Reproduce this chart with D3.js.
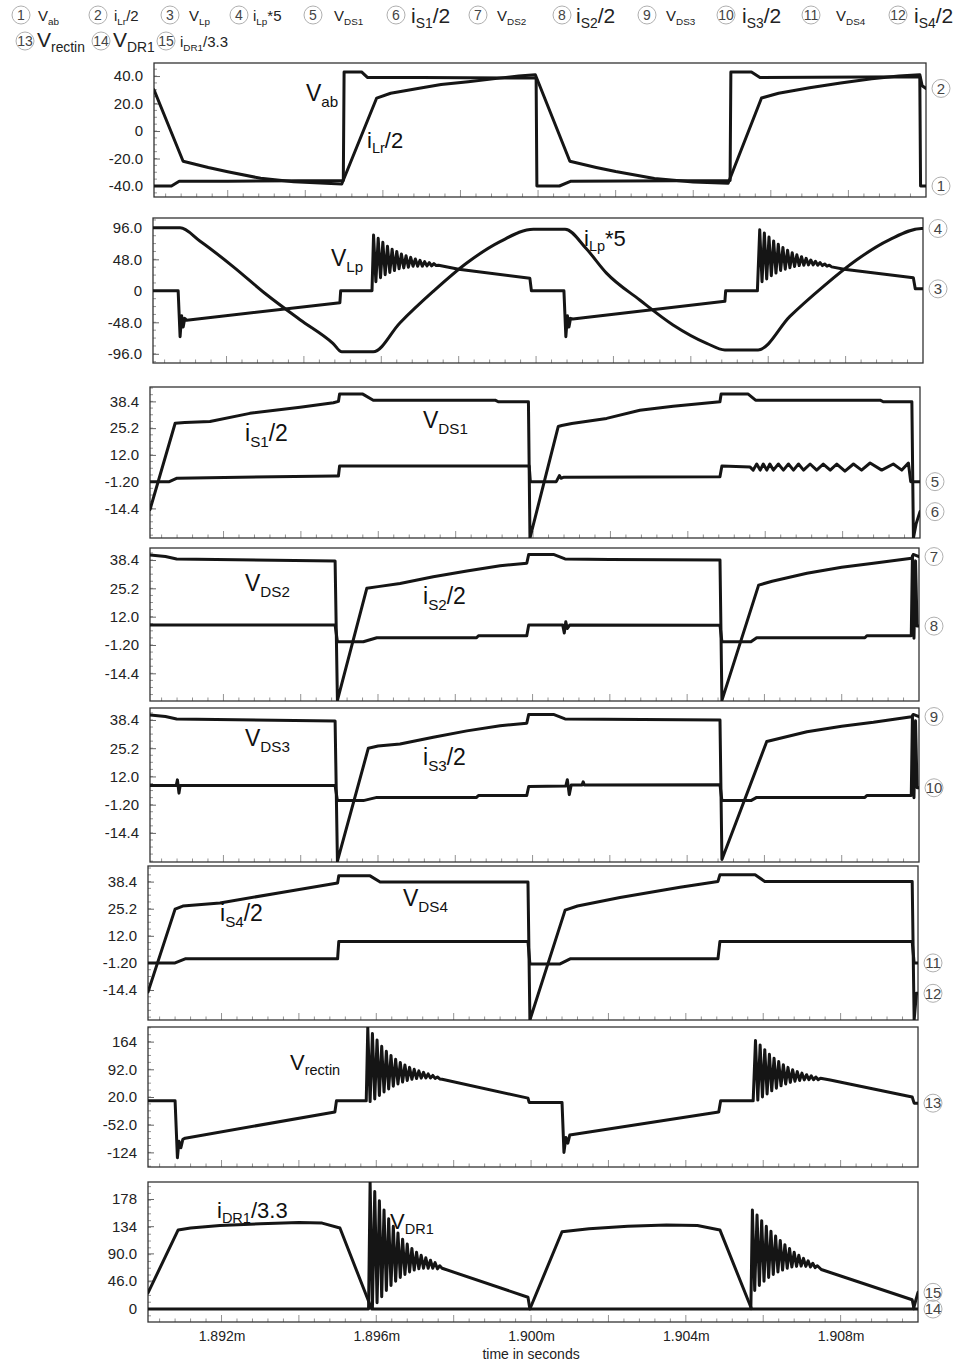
<!DOCTYPE html>
<html><head><meta charset="utf-8">
<script src="https://cdn.jsdelivr.net/npm/d3@7"></script>
<style>body{margin:0;background:#fff}svg{display:block}</style>
</head><body><svg id="c" width="962" height="1364"></svg>
<script>
// ---------------- DATA (time in microseconds, value) ----------------
const X_DOMAIN = [1890.1, 1910.0];
const xTickValues = [1892, 1896, 1900, 1904, 1908];
const xTickLabels = ["1.892m", "1.896m", "1.900m", "1.904m", "1.908m"];
const xTitle = "time in seconds";

const yTicks1 = [40, 20, 0, -20, -40];       const yLabels1 = ["40.0", "20.0", "0", "-20.0", "-40.0"];
const yTicks2 = [96, 48, 0, -48, -96];       const yLabels2 = ["96.0", "48.0", "0", "-48.0", "-96.0"];
const yTicksS = [38.4, 25.2, 12, -1.2, -14.4]; const yLabelsS = ["38.4", "25.2", "12.0", "-1.20", "-14.4"];
const yTicks7 = [164, 92, 20, -52, -124];    const yLabels7 = ["164", "92.0", "20.0", "-52.0", "-124"];
const yTicks8 = [178, 134, 90, 46, 0];       const yLabels8 = ["178", "134", "90.0", "46.0", "0"];

// 1 Vab
const vab = [[1890.1,-40],[1890.55,-40],[1890.75,-36.5],[1892.0,-36.5],[1894.98,-36],[1895.0,43],[1895.45,43],[1895.6,39],[1897.0,39],[1899.95,38.5],[1899.97,-40],[1900.55,-40],[1900.85,-36.5],[1904.95,-36],[1904.97,43],[1905.5,43],[1905.72,39],[1909.84,39.5],[1909.86,-40],[1910.0,-40]];
// 2 iLr/2
const iLr = [[1890.1,30],[1890.85,-22],[1891.5,-26.5],[1892.0,-29.6],[1892.85,-34.4],[1893.7,-36.9],[1894.94,-38.5],[1895.84,24],[1896.2,27.5],[1896.9,31],[1897.5,33.8],[1898.2,35.9],[1899.0,38.5],[1899.5,40],[1899.93,41],[1900.82,-22],[1901.5,-26.5],[1902.0,-29.5],[1903.0,-34.5],[1904.0,-37],[1904.9,-38],[1905.76,24],[1906.2,27.5],[1907.0,31.5],[1907.8,35],[1908.6,38],[1909.3,40],[1909.84,41],[1909.9,33],[1910.0,31]];
// 3 VLp
const vLp = [[1890.1,0],[1890.75,0],[1890.8,-70],[1890.84,-38],[1890.88,-55],[1890.92,-42],[1890.97,-45],[1894.93,-18],[1894.95,0],[1895.76,0],
[1895.80,85],[1895.86,14],[1895.92,80],[1895.98,20],[1896.04,74],[1896.10,24.5],[1896.16,68],[1896.22,28],[1896.28,63.5],[1896.34,31],[1896.40,60],[1896.46,33.5],[1896.52,56],[1896.58,35],[1896.64,53.5],[1896.70,36],[1896.76,51],[1896.82,37.5],[1896.88,48.5],[1896.94,37.5],[1897.00,46.5],[1897.06,37.5],[1897.12,44.5],[1897.18,38],[1897.24,43],[1897.30,38],[1897.36,41.5],[1897.42,38.5],[1897.48,39],
[1898.0,33],[1899.84,19],[1899.88,0],[1900.72,0],[1900.77,-70],[1900.81,-38],[1900.85,-55],[1900.89,-42],[1900.95,-43],[1904.88,-16],[1904.9,0],[1905.72,0],
[1905.78,93],[1905.84,14],[1905.90,88],[1905.96,18],[1906.02,82],[1906.08,23],[1906.14,76],[1906.20,27],[1906.26,71],[1906.32,31],[1906.38,66],[1906.44,33],[1906.50,62],[1906.56,35],[1906.62,58],[1906.68,37],[1906.74,55],[1906.80,38.5],[1906.86,52],[1906.92,39],[1906.98,49.5],[1907.04,39.5],[1907.10,47],[1907.16,39.5],[1907.22,45],[1907.28,39],[1907.34,43],[1907.40,38.5],[1907.46,41],[1907.52,37.5],[1907.58,39],[1907.64,36.5],
[1907.96,33],[1909.75,20],[1909.8,3],[1910.0,3]];
// 4 iLp*5
const iLp = [[1890.1,96],[1890.8,96],[1891.31,76],[1892.17,37],[1893.04,-6],[1893.9,-44],[1894.75,-80],[1894.98,-93],[1895.79,-93],[1896.48,-49],[1897.34,-1],[1898.2,42],[1899.07,75],[1899.93,94],[1900.75,94],[1901.3,64],[1901.82,27],[1902.68,-14],[1903.54,-52],[1904.41,-80],[1904.88,-90],[1905.74,-90],[1906.56,-39],[1907.42,6.5],[1908.28,47],[1909.14,78],[1909.96,95],[1910.0,95]];
// 5 VDS1 (lower trace)
const vDS1 = [[1890.1,-1.2],[1890.6,-1.2],[1890.8,0.5],[1894.88,1.6],[1894.97,1.6],[1895.0,6.5],[1899.9,6.5],[1899.93,-1.2],[1900.6,-1.2],[1900.68,1.8],[1900.72,0.5],[1900.8,1],[1904.83,1.2],[1904.88,6.5],
[1905.61,6],[1905.69,4.5],[1905.78,7.5],[1905.87,4.5],[1905.95,7.5],[1906.04,4.5],[1906.12,7.5],[1906.21,4.5],[1906.34,7.5],[1906.47,4.5],[1906.60,7.5],[1906.73,4.5],[1906.86,7.5],[1906.99,4.5],[1907.16,7.5],[1907.33,4.5],[1907.50,7.5],[1907.68,4.5],[1907.85,7.5],[1908.06,4],[1908.28,7.5],[1908.49,4.5],[1908.71,8],[1909.01,4.5],[1909.31,7.5],[1909.53,4.5],[1909.70,8],
[1909.76,-1.2],[1910.0,-1.2]];
// 6 iS1/2 (upper trace)
const iS1 = [[1890.1,-15],[1890.75,27.6],[1891.0,28],[1891.65,28.5],[1892.68,32.5],[1893.98,35.5],[1894.84,37.7],[1894.97,38.4],[1895.0,42],[1895.6,42],[1895.87,39],[1899.02,39],[1899.1,38.2],[1899.88,38.2],[1899.92,-29],[1900.65,26],[1900.74,26.5],[1901.0,27.5],[1901.9,30],[1902.76,34],[1903.62,36],[1904.83,38.2],[1904.86,42],[1905.56,42],[1905.75,39],[1908.97,39],[1909.05,38.2],[1909.79,38.2],[1909.83,-29],[1909.9,-22],[1910.0,-16]];
// 7 VDS2 (upper)
const vDS2 = [[1890.1,40.7],[1890.5,40],[1890.79,38.9],[1894.89,37.9],[1894.95,-27],[1895.71,25.2],[1896.0,26],[1896.57,27.5],[1897.43,30.6],[1898.3,33.3],[1899.16,35.7],[1899.85,36.9],[1899.9,41],[1900.54,41],[1900.84,38.9],[1902.0,38.6],[1904.85,38.4],[1904.9,-27],[1905.85,26.7],[1906.2,28.5],[1907.1,32.2],[1908.0,35],[1908.82,36.9],[1909.81,39.2],[1909.85,41],[1910.0,40]];
// 8 iS2/2 (lower)
const iS2 = [[1890.1,8.1],[1894.89,8.1],[1894.95,0.3],[1895.62,0.3],[1895.97,2.2],[1898.55,2.2],[1898.6,3.1],[1899.85,3.1],[1899.9,8.1],[1900.78,8.1],[1900.82,4.4],[1900.86,9.6],[1900.9,6.5],[1900.96,8.1],[1904.85,8],[1904.9,0.3],[1905.65,0.3],[1905.8,2.2],[1908.6,2.2],[1908.65,3.1],[1909.8,3.1],[1909.83,40],[1909.87,2],[1909.91,38],[1909.95,7.6],[1910.0,7.6]];
// 9 VDS3 (upper)
const vDS3 = [[1890.1,40.7],[1890.5,40],[1890.79,38.9],[1894.89,37.9],[1894.95,-27.6],[1895.75,25.2],[1896.0,26.2],[1896.57,27.2],[1897.43,30.3],[1898.3,33.3],[1899.16,35.7],[1899.85,36.9],[1899.9,41],[1900.54,41],[1900.84,38.9],[1904.85,38.4],[1904.9,-26.8],[1906.06,28.3],[1907.1,32.9],[1908.0,35.5],[1908.82,37.3],[1909.81,39.9],[1909.85,41],[1910.0,40]];
// 10 iS3/2 (lower)
const iS3 = [[1890.1,7.8],[1890.78,7.8],[1890.81,10.4],[1890.85,4.2],[1890.88,7.8],[1894.89,7.8],[1894.95,0.7],[1895.62,0.7],[1895.97,2.2],[1898.55,2.2],[1898.6,3.1],[1899.85,3.1],[1899.9,7.3],[1900.86,7.5],[1900.9,10.5],[1900.95,3.5],[1901.0,8],[1901.28,8],[1901.31,9.5],[1901.34,8],[1904.85,8.1],[1904.9,0.7],[1905.65,0.7],[1905.8,2.2],[1908.6,2.2],[1908.65,3.1],[1909.8,3.1],[1909.83,40],[1909.87,2],[1909.91,38],[1909.95,6.7],[1910.0,6.7]];
// 11 VDS4 (lower)
const vDS4 = [[1890.1,-1.2],[1890.8,-1.2],[1891.06,0.8],[1895.0,0.8],[1895.03,9.2],[1899.92,9.2],[1899.97,-1.7],[1900.75,-1.7],[1901.01,0.8],[1904.83,0.8],[1904.88,9.2],[1909.85,9.2],[1909.9,-1.2],[1910.0,-1.2]];
// 12 iS4/2 (upper)
const iS4 = [[1890.1,-15.4],[1890.8,25],[1891.0,26.5],[1891.96,28],[1893.51,33],[1895.0,37.7],[1895.03,41.2],[1895.84,41.2],[1896.1,38.2],[1899.92,38.2],[1899.97,-29],[1900.88,24.5],[1901.2,26.5],[1902.3,30.7],[1903.85,35.7],[1904.83,38.5],[1904.88,41.7],[1905.79,41.7],[1906.04,38.5],[1909.85,38.5],[1909.9,-29],[1909.96,-16],[1910.0,-16]];
// 13 Vrectin
const vRectin = [[1890.1,10],[1890.8,10],[1890.86,-138],[1890.9,-95],[1890.95,-112],[1891.0,-90],[1891.06,-87],[1894.93,-19],[1894.97,10],[1895.74,10],
[1895.78,200],[1895.84,8],[1895.90,185],[1895.96,15],[1896.02,168],[1896.08,24],[1896.14,152],[1896.20,33],[1896.26,139],[1896.32,41],[1896.38,128],[1896.44,48],[1896.50,118],[1896.56,54],[1896.62,110],[1896.68,59],[1896.74,103],[1896.80,63],[1896.86,97],[1896.92,66],[1896.98,92],[1897.04,68],[1897.10,88],[1897.16,69],[1897.22,84],[1897.28,69.5],[1897.34,80],[1897.40,69.5],[1897.46,76],[1897.52,68.5],[1897.58,72],[1897.64,67],
[1897.7,66],[1899.92,17],[1899.95,6],[1900.8,6],[1900.85,-124],[1900.9,-85],[1900.95,-100],[1901.0,-79],[1904.85,-19],[1904.9,10],[1905.74,10],
[1905.80,167],[1905.86,12],[1905.92,155],[1905.98,20],[1906.04,143],[1906.10,28],[1906.16,131],[1906.22,36],[1906.28,121],[1906.34,43],[1906.40,112],[1906.46,49],[1906.52,104],[1906.58,54],[1906.64,97],[1906.70,58],[1906.76,91],[1906.82,61],[1906.88,86],[1906.94,63],[1907.00,82],[1907.06,64.5],[1907.12,78],[1907.18,65],[1907.24,75],[1907.30,65],[1907.36,72],[1907.42,65],[1907.48,69],
[1907.73,64],[1909.85,20],[1909.9,4],[1910.0,4]];
// 14 VDR1
const vDR1 = [[1890.1,0],[1895.8,0],
[1895.84,205],[1895.90,2],[1895.96,190],[1896.02,10],[1896.08,175],[1896.14,20],[1896.20,160],[1896.26,30],[1896.32,146],[1896.38,38],[1896.44,134],[1896.50,45],[1896.56,123],[1896.62,51],[1896.68,113],[1896.74,56],[1896.80,105],[1896.86,60],[1896.92,98],[1896.98,63],[1897.04,92],[1897.10,65],[1897.16,87],[1897.22,66],[1897.28,83],[1897.34,66],[1897.40,79],[1897.46,66],[1897.52,75],[1897.58,65],[1897.64,70],
[1897.7,66],[1899.92,19],[1899.97,0],[1905.68,0],
[1905.72,160],[1905.78,30],[1905.84,152],[1905.90,38],[1905.96,143],[1906.02,45],[1906.08,134],[1906.14,51],[1906.20,126],[1906.26,56],[1906.32,118],[1906.38,60],[1906.44,111],[1906.50,63],[1906.56,104],[1906.62,66],[1906.68,98],[1906.74,68],[1906.80,92],[1906.86,69],[1906.92,87],[1906.98,69.5],[1907.04,82],[1907.10,69],[1907.16,78],[1907.22,68],[1907.28,74],[1907.34,67],[1907.40,70],
[1907.5,64],[1909.85,15],[1909.9,0],[1910.0,0]];
// 15 iDR1/3.3
const iDR1 = [[1890.1,26],[1890.88,128],[1891.2,131],[1891.96,135],[1893.0,138],[1894.0,140],[1894.6,139],[1895.06,131],[1895.88,0],[1899.97,0],[1900.8,125],[1901.5,130],[1902.5,134],[1903.5,136],[1904.3,135],[1904.88,128],[1905.7,0],[1909.88,0],[1910.0,27]];

// legend
const legendNums   = [1,2,3,4,5,6,7,8,9,10,11,12,13,14,15];
const legendMain   = ["V","i","V","i","V","i","V","i","V","i","V","i","V","V","i"];
const legendSub    = ["ab","Lr","Lp","Lp","DS1","S1","DS2","S2","DS3","S3","DS4","S4","rectin","DR1","DR1"];
const legendSuffix = ["","/2","","*5","","/2","","/2","","/2","","/2","","","/3.3"];

// ---------------- LAYOUT ----------------
const legendPos = [
  {cx:21,tx:38,row:0,big:false},{cx:98,tx:114,row:0,big:false},{cx:170,tx:189,row:0,big:false},
  {cx:239,tx:253,row:0,big:false},{cx:313,tx:334,row:0,big:false},{cx:396,tx:411,row:0,big:true},
  {cx:478,tx:497,row:0,big:false},{cx:562,tx:576,row:0,big:true},{cx:647,tx:666,row:0,big:false},
  {cx:726,tx:742,row:0,big:true},{cx:811,tx:836,row:0,big:false},{cx:898,tx:914,row:0,big:true},
  {cx:25,tx:37,row:1,big:true},{cx:101,tx:113,row:1,big:true},{cx:166,tx:180,row:1,big:false}
];

const panels = [
  {top:63,bottom:197,left:154,right:926,domain:[-48,49.5],ticks:yTicks1,labels:yLabels1,
   series:[{n:1,d:vab},{n:2,d:iLr}],
   notes:[{x:306,y:101,m:"V",s:"ab",f:"",size:23},{x:367,y:148,m:"i",s:"Lr",f:"/2",size:22}]},
  {top:218,bottom:363,left:153,right:923,domain:[-110,111],ticks:yTicks2,labels:yLabels2,
   series:[{n:3,d:vLp},{n:4,d:iLp,curve:d3.curveMonotoneX}],
   notes:[{x:331,y:266,m:"V",s:"Lp",f:"",size:23},{x:584,y:246,m:"i",s:"Lp",f:"*5",size:22}]},
  {top:387,bottom:538,left:150,right:920,domain:[-29,45.5],ticks:yTicksS,labels:yLabelsS,
   series:[{n:5,d:vDS1},{n:6,d:iS1}],
   notes:[{x:245,y:441,m:"i",s:"S1",f:"/2",size:23},{x:423,y:428,m:"V",s:"DS1",f:"",size:23}]},
  {top:548,bottom:701,left:150,right:919,domain:[-27.3,44],ticks:yTicksS,labels:yLabelsS,
   series:[{n:7,d:vDS2},{n:8,d:iS2}],
   notes:[{x:245,y:591,m:"V",s:"DS2",f:"",size:23},{x:423,y:604,m:"i",s:"S2",f:"/2",size:23}]},
  {top:708,bottom:862,left:150,right:919,domain:[-28,44],ticks:yTicksS,labels:yLabelsS,
   series:[{n:9,d:vDS3},{n:10,d:iS3}],
   notes:[{x:245,y:746,m:"V",s:"DS3",f:"",size:23},{x:423,y:765,m:"i",s:"S3",f:"/2",size:23}]},
  {top:866,bottom:1020,left:148,right:918,domain:[-29,46],ticks:yTicksS,labels:yLabelsS,
   series:[{n:11,d:vDS4},{n:12,d:iS4}],
   notes:[{x:220,y:921,m:"i",s:"S4",f:"/2",size:23},{x:403,y:906,m:"V",s:"DS4",f:"",size:23}]},
  {top:1027,bottom:1167,left:148,right:918,domain:[-162,202],ticks:yTicks7,labels:yLabels7,
   series:[{n:13,d:vRectin}],
   notes:[{x:290,y:1070,m:"V",s:"rectin",f:"",size:22}]},
  {top:1182,bottom:1322,left:148,right:918,domain:[-21,205.5],ticks:yTicks8,labels:yLabels8,
   series:[{n:14,d:vDR1},{n:15,d:iDR1}],
   notes:[{x:217,y:1218,m:"i",s:"DR1",f:"/3.3",size:22},{x:390,y:1229,m:"V",s:"DR1",f:"",size:22}]}
];

const FONT = "'Liberation Sans', Arial, Helvetica, sans-serif";
const LINE = "#151515";
const svg = d3.select("#c").style("font-family", FONT);
svg.append("rect").attr("width",962).attr("height",1364).attr("fill","#fff");

function richText(g, x, y, main, sub, suf, size, color) {
  const t = g.append("text").attr("x", x).attr("y", y).attr("font-size", size).attr("fill", color || "#111");
  t.append("tspan").text(main);
  const ss = size * 0.66, dy = size * 0.24;
  t.append("tspan").attr("font-size", ss).attr("dy", dy).text(sub);
  if (suf) t.append("tspan").attr("font-size", size).attr("dy", -dy).text(suf);
  return t;
}

function numCircle(g, cx, cy, n, r, fs) {
  g.append("circle").attr("cx", cx).attr("cy", cy).attr("r", r)
    .attr("fill", "none").attr("stroke", "#b0b0b0").attr("stroke-width", 1);
  g.append("text").attr("x", cx).attr("y", cy).attr("dy", "0.35em").attr("text-anchor", "middle")
    .attr("font-size", fs).attr("fill", "#444").text(n);
}

// legend
const lg = svg.append("g");
legendNums.forEach((n, i) => {
  const p = legendPos[i];
  const cy = p.row === 0 ? 15 : 41;
  numCircle(lg, p.cx, cy, n, 9, 14);
  const size = p.big ? 21 : 15;
  const base = p.row === 0 ? (p.big ? 23 : 21) : 47;
  richText(lg, p.tx, base, legendMain[i], legendSub[i], legendSuffix[i], size, "#222");
});

// panels
panels.forEach((p, i) => {
  const x = d3.scaleLinear().domain(X_DOMAIN).range([p.left, p.right]);
  const y = d3.scaleLinear().domain(p.domain).range([p.bottom, p.top]);
  const g = svg.append("g");
  svg.append("clipPath").attr("id", "clip" + i).append("rect")
    .attr("x", p.left).attr("y", p.top).attr("width", p.right - p.left).attr("height", p.bottom - p.top);

  // minor y ticks
  const step = Math.abs(p.ticks[0] - p.ticks[1]) / 4;
  const minorY = d3.range(p.ticks[p.ticks.length - 1] - step * 8, p.domain[1], step).filter(v => v > p.domain[0] && v < p.domain[1]);
  g.append("g").selectAll("line").data(minorY).join("line")
    .attr("x1", p.left).attr("x2", p.left + 3).attr("y1", d => y(d)).attr("y2", d => y(d))
    .attr("stroke", "#777").attr("stroke-width", 0.8);

  // y axis
  const ax = d3.axisLeft(y).tickValues(p.ticks).tickFormat((d, j) => p.labels[j]).tickSize(-6).tickPadding(11);
  const axg = g.append("g").attr("transform", `translate(${p.left},0)`).call(ax);
  axg.select(".domain").remove();
  axg.selectAll("line").attr("stroke", "#666");
  axg.selectAll("text").attr("font-size", 15).attr("fill", "#222").attr("font-family", FONT);

  // x ticks inside bottom
  const minorX = d3.range(1890.4, 1910, 0.4);
  g.append("g").selectAll("line").data(minorX).join("line")
    .attr("x1", d => x(d)).attr("x2", d => x(d))
    .attr("y1", p.bottom).attr("y2", d => p.bottom - (Math.abs(Math.round(d) - d) < 0.01 && Math.round(d) % 2 === 0 ? 7 : 3.5))
    .attr("stroke", "#777").attr("stroke-width", 0.8);

  // box
  g.append("rect").attr("x", p.left).attr("y", p.top).attr("width", p.right - p.left).attr("height", p.bottom - p.top)
    .attr("fill", "none").attr("stroke", "#333").attr("stroke-width", 1.3);

  // series
  p.series.forEach(s => {
    const line = d3.line().x(d => x(d[0])).y(d => y(d[1])).curve(s.curve || d3.curveLinear);
    g.append("path").datum(s.d).attr("clip-path", `url(#clip${i})`)
      .attr("d", line).attr("fill", "none").attr("stroke", LINE)
      .attr("stroke-width", 3).attr("stroke-linejoin", "round").attr("stroke-linecap", "round");
  });

  // end labels
  p.series.forEach(s => {
    const last = s.d[s.d.length - 1];
    numCircle(g, p.right + 15, y(last[1]), s.n, 9, 15);
  });

  // annotations
  p.notes.forEach(nt => richText(g, nt.x, nt.y, nt.m, nt.s, nt.f, nt.size, "#111"));

  // bottom x axis on last panel
  if (i === panels.length - 1) {
    const xa = d3.axisBottom(x).tickValues(xTickValues).tickFormat((d, j) => xTickLabels[j]).tickSize(0).tickPadding(9);
    const xg = g.append("g").attr("transform", `translate(0,${p.bottom})`).call(xa);
    xg.select(".domain").remove();
    xg.selectAll("text").attr("font-size", 14).attr("fill", "#222").attr("font-family", FONT);
    g.append("text").attr("x", x(1900.0)).attr("y", 1359).attr("text-anchor", "middle")
      .attr("font-size", 14).attr("fill", "#222").text(xTitle);
  }
});
</script></body></html>
